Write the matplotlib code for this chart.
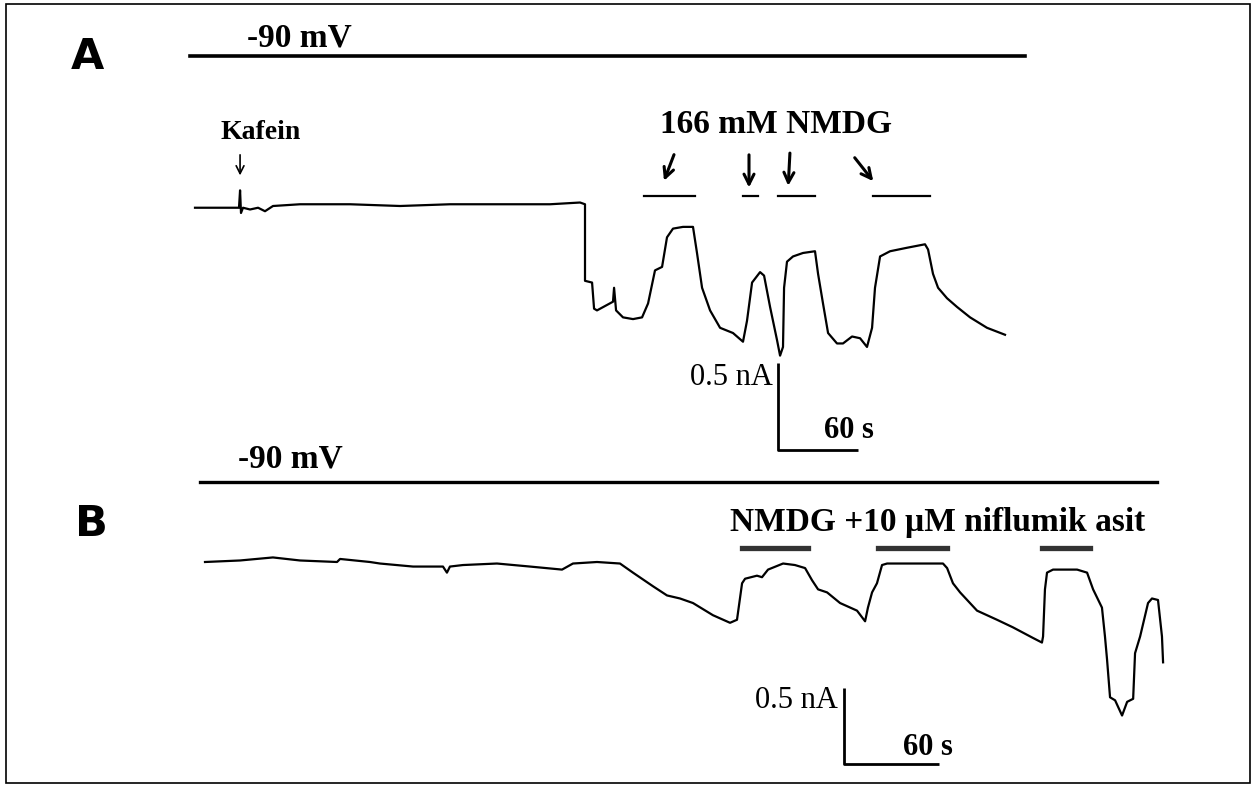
import numpy as np
import matplotlib
matplotlib.use('Agg')
import matplotlib.pyplot as plt
from matplotlib.patches import Rectangle

###################################

# DATA (time in s, current in nA relative to the starting baseline)

# Panel A - caffeine, then 166 mM NMDG applications
a_time = [0, 30.8, 33, 33.8, 34.5, 36, 41.3, 47.3, 52.5, 58.5, 78.8, 116.3, 153.8,
          191.3, 228.8, 266.3, 288.8, 292.5, 292.5, 297.8, 299.3, 301.5, 313.5, 314.3,
          315.8, 321, 328.5, 335.3, 339.8, 345, 350.3, 354, 358.5, 366, 373.5, 376.5,
          380.3, 386.3, 393.8, 403.5, 411, 414, 417.8, 423.8, 426.8, 431.3, 436.5, 438.8,
          441, 441.8, 444, 448.5, 456, 465, 467.3, 471, 474.8, 481.5, 486, 492.8, 498.8,
          504, 507.8, 510, 513.8, 521.3, 534, 547.5, 549.8, 553.5, 557.3, 564, 571.5,
          581.3, 594, 607.5]
a_current = [-0.01, -0.01, -0.01, 0.09, -0.04, -0.01, -0.02, -0.01, -0.03, 0, 0.01, 0.01, 0,
             0.01, 0.01, 0.01, 0.02, 0.01, -0.43, -0.44, -0.59, -0.6, -0.55, -0.47,
             -0.6, -0.64, -0.65, -0.64, -0.56, -0.37, -0.35, -0.18, -0.13, -0.12, -0.12, -0.27,
             -0.47, -0.6, -0.7, -0.73, -0.78, -0.66, -0.44, -0.38, -0.4, -0.58, -0.77, -0.86,
             -0.81, -0.47, -0.32, -0.29, -0.27, -0.26, -0.39, -0.56, -0.73, -0.79, -0.79, -0.75, -0.76,
             -0.81, -0.7, -0.47, -0.29, -0.26, -0.24, -0.22, -0.25, -0.39, -0.47, -0.53, -0.58,
             -0.64, -0.7, -0.74]

# NMDG application periods in A (start, end)
a_nmdg = [(336.8, 375), (411, 422.3), (437.3, 465), (508.5, 551.3)]
a_hold = (-3.8, 622.5)   # -90 mV holding period
kafein_t = 33.8

# Panel B - NMDG + 10 uM niflumic acid
b_time = [0, 22.1, 42.9, 60, 83.4, 85.3, 104.2, 110.5, 131.4, 150.3, 152.8, 154.7,
          162.9, 184.4, 205.3, 225.5, 232.4, 247.6, 262.1, 270.3, 283, 291.8, 300, 308.2,
          320.8, 331.6, 336, 339.2, 341.1, 348.6, 351.8, 355.6, 365.1, 372.6, 379, 383.4,
          387.2, 392.9, 401.1, 411.8, 416.9, 418.7, 421.3, 424.4, 427.6, 430.8, 447.2, 466.1,
          468.7, 472.4, 476.9, 487.6, 500.2, 510.3, 523, 528.6, 529.3, 530.5, 531.8, 535.6,
          550.8, 557.1, 560.9, 566.5, 568.4, 569.7, 571.6, 574.8, 579.2, 582.4, 586.2, 587.4,
          590.6, 595.6, 598.1, 601.9, 604.4, 605.1]
b_current = [0, 0.01, 0.03, 0.01, 0, 0.02, 0, -0.01, -0.03, -0.03, -0.07, -0.03,
             -0.02, -0.01, -0.03, -0.05, -0.01, 0, -0.01, -0.07, -0.16, -0.22, -0.24, -0.27,
             -0.35, -0.4, -0.38, -0.14, -0.11, -0.09, -0.1, -0.05, -0.01, -0.02, -0.04, -0.12,
             -0.18, -0.2, -0.27, -0.32, -0.39, -0.3, -0.2, -0.14, -0.02, -0.01, -0.01, -0.01,
             -0.04, -0.14, -0.2, -0.32, -0.38, -0.43, -0.5, -0.53, -0.49, -0.18, -0.07, -0.05,
             -0.05, -0.07, -0.18, -0.3, -0.49, -0.64, -0.89, -0.91, -1.01, -0.92, -0.9, -0.6,
             -0.49, -0.27, -0.24, -0.25, -0.49, -0.66]

# NMDG + niflumic acid application periods in B
b_nmdg = [(339.2, 380.9), (425.1, 468.7), (528.6, 559)]
b_hold = (-3.2, 601.3)

###################################

W, H = 1258, 791
fig = plt.figure(figsize=(W / 100, H / 100), dpi=100)
plt.rcParams['font.family'] = ['Liberation Serif', 'DejaVu Serif']


def panel_axes(px0, py0, sx, sy):
    """ Axes over the whole figure, with (t=0, I=0) at pixel (px0, py0),
    sx pixels per second and sy pixels per nA. """
    ax = fig.add_axes([0, 0, 1, 1])
    ax.set_xlim(-px0 / sx, (W - px0) / sx)
    ax.set_ylim((py0 - H) / sy, py0 / sy)
    ax.set_facecolor('none')
    ax.axis('off')
    return ax


def scale_bar(ax, t0, i0, dt, di, fs):
    ax.plot([t0, t0, t0 + dt], [i0 + di, i0, i0], color='black', lw=2.0,
            solid_capstyle='butt')
    ax.text(t0 - 4, i0 + di * 0.83, '%.1f nA' % di, ha='right', va='center', fontsize=fs)
    ax.text(t0 + dt * 0.88, i0 + di * 0.22, '%d s' % dt, ha='center', va='center',
            fontsize=fs, fontweight='bold')


# Frame around the whole figure
fig.add_artist(Rectangle((6 / W, 1 - 783 / H), 1244 / W, 779 / H, transform=fig.transFigure,
                         fill=False, edgecolor='black', lw=1.2))

fig.text(87 / W, 1 - 57 / H, 'A', ha='center', va='center', fontsize=31,
         family='DejaVu Sans', fontweight='bold')
fig.text(91 / W, 1 - 524 / H, 'B', ha='center', va='center', fontsize=31,
         family='DejaVu Sans', fontweight='bold')

### Panel A
axA = panel_axes(195, 206, 80 / 60, 174)
axA.plot(a_time, a_current, color='black', lw=1.6)
axA.plot(a_hold, [0.862, 0.862], color='black', lw=2.6)
axA.text(78, 0.966, '-90 mV', ha='center', va='center', fontsize=24, fontweight='bold')

axA.text(49.5, 0.42, 'Kafein', ha='center', va='center', fontsize=20, fontweight='bold')
axA.annotate('', xy=(kafein_t, 0.16), xytext=(kafein_t, 0.31),
             arrowprops=dict(arrowstyle='->', lw=1.2, color='black', mutation_scale=14))

axA.text(435.8, 0.471, '166 mM NMDG', ha='center', va='center', fontsize=24,
         fontweight='bold')
for start, end in a_nmdg:
    axA.plot([start, end], [0.057, 0.057], color='black', lw=1.6)
# arrows pointing to each application bar
arrow_tails = [(360, 0.31), (415.5, 0.31), (446.3, 0.32), (493.5, 0.29)]
arrow_heads = [(351, 0.13), (415.5, 0.09), (444.8, 0.1), (510, 0.13)]
for tail, head in zip(arrow_tails, arrow_heads):
    axA.annotate('', xy=head, xytext=tail,
                 arrowprops=dict(arrowstyle='->', lw=2.2, color='black', mutation_scale=18))

scale_bar(axA, 437.3, -1.402, 60, 0.5, 22)

### Panel B
axB = panel_axes(205, 562, 95 / 60, 152)
axB.plot(b_time, b_current, color='black', lw=1.6)
axB.plot(b_hold, [0.526, 0.526], color='black', lw=2.4)
axB.text(53.7, 0.678, '-90 mV', ha='center', va='center', fontsize=24, fontweight='bold')

axB.text(463, 0.263, 'NMDG +10 \u00b5M niflumik asit', ha='center', va='center',
         fontsize=24, fontweight='bold')
for start, end in b_nmdg:
    axB.plot([start, end], [0.092, 0.092], color='#333333', lw=3.8)

scale_bar(axB, 403.6, -1.329, 60, 0.5, 22)

plt.savefig('out.png', dpi=100)
